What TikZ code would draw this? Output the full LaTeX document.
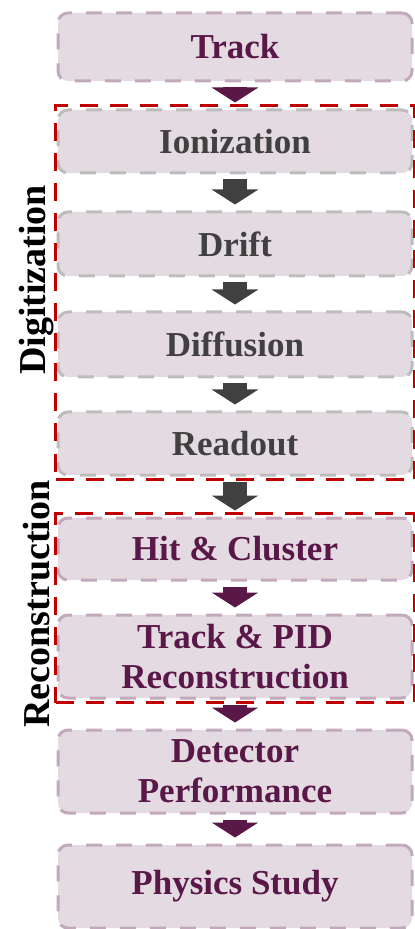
\documentclass[tikz,border=0pt]{standalone}
\usepackage{fontspec}
\setmainfont{Liberation Serif}
\usetikzlibrary{arrows.meta,fit}
\definecolor{boxfill}{HTML}{E4DAE2}
\definecolor{plumtext}{HTML}{5A1848}
\definecolor{greytext}{HTML}{404040}
\definecolor{plumline}{HTML}{C2A9BB}
\definecolor{greyline}{HTML}{BDBDBD}
\definecolor{groupred}{HTML}{C00000}

\begin{document}
\begin{tikzpicture}[x=0.5pt, y=-0.5pt,
	stage/.style={fill=boxfill, draw, line width=1.5pt, dash pattern=on 8pt off 7pt, rounded corners=5pt, minimum width=177pt, inner sep=0pt, align=center, font={\fontsize{17.5}{20}\selectfont\bfseries}},
	plum/.style={stage, draw=plumline, text=plumtext},
	grey/.style={stage, draw=greyline, text=greytext},
	flow/.style={line width=12pt, -{Triangle[width=23pt,length=7.5pt]}, shorten <=2.5pt, shorten >=3pt},
	group/.style={draw=groupred, line width=1.5pt, dash pattern=on 9pt off 6pt, inner xsep=0.5pt, inner ysep=1.5pt},
	side/.style={rotate=90, font={\fontsize{19}{22}\selectfont\bfseries}}]
	\useasboundingbox (0,0) rectangle (414,929);
	\node[plum, minimum height=34pt] (track) at (235,47) {Track};
	\node[grey, minimum height=31.5pt] (ion) at (235,141.5) {Ionization};
	\node[grey, minimum height=32pt] (drift) at (235,244) {Drift};
	\node[grey, minimum height=32.5pt] (diff) at (235,344.5) {Diffusion};
	\node[grey, minimum height=31.5pt] (read) at (235,443.5) {Readout};
	\node[plum, minimum height=31pt] (hit) at (235,549) {Hit \& Cluster};
	\node[plum, minimum height=41.5pt] (pid) at (235,656.5) {Track \& PID\\Reconstruction};
	\node[plum, minimum height=41.5pt] (perf) at (235,771.5) {Detector\\Performance};
	\node[plum, minimum height=41.5pt] (phys) at (235,886.5) {Physics Study};
	\draw[flow, plumtext] (track) -- (ion);
	\draw[flow, greytext] (ion) -- (drift);
	\draw[flow, greytext] (drift) -- (diff);
	\draw[flow, greytext] (diff) -- (read);
	\draw[flow, greytext] (read) -- (hit);
	\draw[flow, plumtext] (hit) -- (pid);
	\draw[flow, plumtext] (pid) -- (perf);
	\draw[flow, plumtext] (perf) -- (phys);
	\node[group, fit=(ion)(read)] (digi) {};
	\node[group, fit=(hit)(pid)] (reco) {};
	\node[side] (digilabel) at (37,280) {Digitization};
	\node[side] (recolabel) at (37,604) {Reconstruction};
\end{tikzpicture}
\end{document}
